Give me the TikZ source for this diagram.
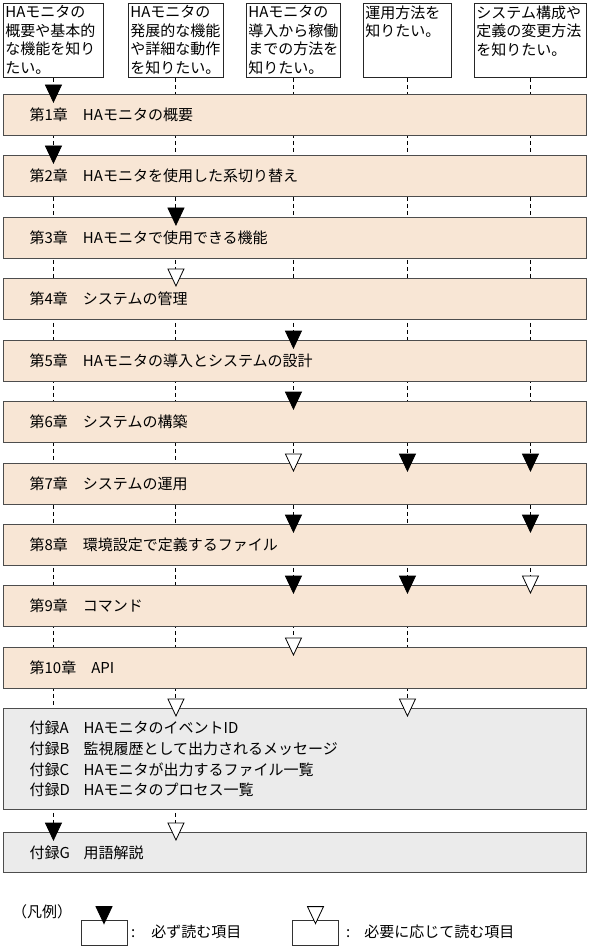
\documentclass[tikz,border=0pt]{standalone}
\usepackage{fontspec}
\newfontfamily\jpfont{Noto Sans CJK JP}
\usepackage{xcolor}
\usepackage{tikz}
\usetikzlibrary{calc,backgrounds}
\definecolor{chapfill}{HTML}{F8E6D5}
\definecolor{appfill}{HTML}{EBEBEB}
\definecolor{barline}{HTML}{4D4D4D}
\newcommand{\jpsize}{\jpfont\fontsize{15}{18.5}\selectfont}
\newcommand{\apptag}[1]{\makebox[54pt][l]{#1}}
\tikzset{
  goal/.style={draw=black!85, line width=0.9pt, anchor=north west, inner sep=2pt, font=\jpsize},
  chap/.style={draw=barline, line width=1.3pt, fill=chapfill, anchor=north west, minimum width=583pt, minimum height=41pt,
    text width=531pt, align=left, inner sep=0pt, font=\jpfont\fontsize{15}{20.7}\selectfont},
  appx/.style={chap, fill=appfill},
  guide/.style={line width=1pt, dash pattern=on 4pt off 3pt},
  legbox/.style={draw=black!80, line width=0.8pt, minimum width=46pt, minimum height=25pt, inner sep=0pt},
  note/.style={anchor=west, inner sep=0pt, font=\jpsize},
  must/.pic={\draw[line width=0.8pt, fill=black] (-8,-9) -- (8,-9) -- (0,8) -- cycle;},
  maybe/.pic={\draw[line width=0.8pt, fill=white] (-8,-9) -- (8,-9) -- (0,8) -- cycle;}
}

\begin{document}
\begin{tikzpicture}[x=1pt,y=-1pt]
  \useasboundingbox (0,0) rectangle (589,949);

  % reader goals
  \node[goal] (q1) at (3,3) {\parbox[t][70pt][t]{96pt}{HAモニタの\\概要や基本的\\な機能を知り\\たい。}};
  \node[goal] (q2) at (128,3) {\parbox[t][70pt][t]{91pt}{HAモニタの\\発展的な機能\\や詳細な動作\\を知りたい。}};
  \node[goal] (q3) at (246,3) {\parbox[t][70pt][t]{90pt}{HAモニタの\\導入から稼働\\までの方法を\\知りたい。}};
  \node[goal] (q4) at (363,3) {\parbox[t][70pt][t]{84pt}{運用方法を\\知りたい。}};
  \node[goal] (q5) at (474,3) {\parbox[t][70pt][t]{108pt}{システム構成や\\定義の変更方法\\を知りたい。}};

  % chapters
  \node[chap] (c1) at (3,94) {第1章　HAモニタの概要};
  \node[chap] (c2) at (3,155) {第2章　HAモニタを使用した系切り替え};
  \node[chap] (c3) at (3,217) {第3章　HAモニタで使用できる機能};
  \node[chap] (c4) at (3,278) {第4章　システムの管理};
  \node[chap] (c5) at (3,340) {第5章　HAモニタの導入とシステムの設計};
  \node[chap] (c6) at (3,401) {第6章　システムの構築};
  \node[chap] (c7) at (3,463) {第7章　システムの運用};
  \node[chap] (c8) at (3,524) {第8章　環境設定で定義するファイル};
  \node[chap] (c9) at (3,585) {第9章　コマンド};
  \node[chap] (c10) at (3,647) {第10章　API};
  \node[appx, minimum height=101pt] (aA) at (3,708) {\apptag{付録A}HAモニタのイベントID\\
    \apptag{付録B}監視履歴として出力されるメッセージ\\
    \apptag{付録C}HAモニタが出力するファイル一覧\\
    \apptag{付録D}HAモニタのプロセス一覧};
  \node[appx, minimum height=40pt] (aG) at (3,832) {\apptag{付録G}用語解説};

  \begin{scope}[on background layer]
    \draw[guide] (q1) -- (q1 |- aG.north);
    \draw[guide] (q2) -- (q2 |- aG.north);
    \draw[guide] (q3) -- (q3 |- c10.north);
    \draw[guide] (q4) -- (q4 |- aA.north);
    \draw[guide] (q5) -- (q5 |- c9.north);
  \end{scope}

  \foreach \q/\c in {q1/c1,q1/c2,q2/c3,q3/c5,q3/c6,q4/c7,q5/c7,q3/c8,q5/c8,q3/c9,q4/c9,q1/aG}
    \pic at (\q |- \c.north) {must};
  \foreach \q/\c in {q2/c4,q3/c7,q5/c9,q3/c10,q2/aA,q4/aA,q2/aG}
    \pic at (\q |- \c.north) {maybe};

  % legend
  \node[note] (legend) at (12,912) {（凡例）};
  \node[legbox] (lmust) at (104,932.5) {};
  \pic at ([yshift=4pt]lmust.north) {must};
  \node[note] (tmust) at (131,932) {:\hspace{16pt}必ず読む項目};
  \node[legbox] (lmaybe) at (315.5,932.5) {};
  \pic at ([yshift=4pt]lmaybe.north) {maybe};
  \node[note] (tmaybe) at (346,932) {:\hspace{14pt}必要に応じて読む項目};
\end{tikzpicture}
\end{document}
